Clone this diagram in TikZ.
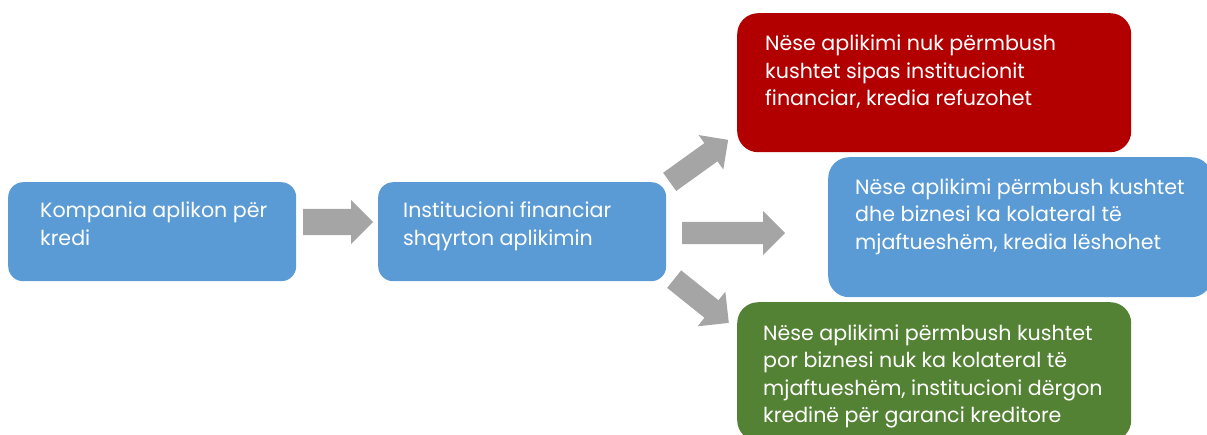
\documentclass[tikz,border=0pt]{standalone}
\usepackage{fontspec}
\setmainfont{Poppins}
\usepackage{xcolor}
\usetikzlibrary{shapes.arrows, positioning}

\definecolor{boxblue}{RGB}{91,155,213}
\definecolor{boxred}{RGB}{178,0,0}
\definecolor{boxgreen}{RGB}{84,130,53}
\definecolor{arrowgray}{RGB}{165,165,165}

\begin{document}
\begin{tikzpicture}[x=1pt, y=-1pt,
		stepbox/.style={rectangle, fill=boxblue, rounded corners=15pt, minimum width=288pt, minimum height=99pt, anchor=north west, inner sep=0pt},
		outcome/.style={rectangle, rounded corners=21pt, minimum width=394pt, minimum height=139pt, anchor=north west, inner sep=0pt},
		caption/.style={anchor=north west, inner sep=0pt, align=left, text=white, font=\fontsize{20.6}{27.5}\selectfont, execute at begin node=\strut},
		bigarrow/.style={single arrow, fill=arrowgray, inner xsep=0pt, inner ysep=11pt, single arrow head extend=11pt, single arrow tip angle=90, anchor=tail}
		]
		\clip (0,0) rectangle (1207,434);
		
		\node [stepbox](s1) at (8,182) {};
		\node [stepbox](s2) at (378,182) {};
		
		\node [outcome, fill=boxred](o1) at (737,13) {};
		\node [outcome, fill=boxblue, minimum width=384pt, minimum height=140pt](o2) at (828,157) {};
		\node [outcome, fill=boxgreen](o3) at (737,302) {};
		
		\node [caption](t1) at ([shift={(32,20)}]s1.north west) {Kompania aplikon për\\kredi};
		\node [caption](t2) at ([shift={(25,20)}]s2.north west) {Institucioni financiar\\shqyrton aplikimin};
		
		\node [caption](t3) at ([shift={(28,22)}]o1.north west) {Nëse aplikimi nuk përmbush\\kushtet sipas institucionit\\financiar, kredia refuzohet};
		\node [caption](t4) at ([shift={(27,21.5)}]o2.north west) {Nëse aplikimi përmbush kushtet\\dhe biznesi ka kolateral të\\mjaftueshëm, kredia lëshohet};
		\node [caption](t5) at ([shift={(26,22.5)}]o3.north west) {Nëse aplikimi përmbush kushtet\\por biznesi nuk ka kolateral të\\mjaftueshëm, institucioni dërgon\\kredinë për garanci kreditore};
		
		% block arrows between the steps
		\node [bigarrow, minimum height=70pt, inner ysep=13pt, single arrow head extend=9pt](a1) at (303,222) {};
		\node [bigarrow, minimum height=72pt, single arrow head extend=10pt, rotate=35.7](a2) at (669.5,182) {};
		\node [bigarrow, minimum height=103pt](a3) at (682,233) {};
		\node [bigarrow, minimum height=70pt, rotate=-38.7](a4) at (674,279) {};
		
	\end{tikzpicture}
\end{document}
